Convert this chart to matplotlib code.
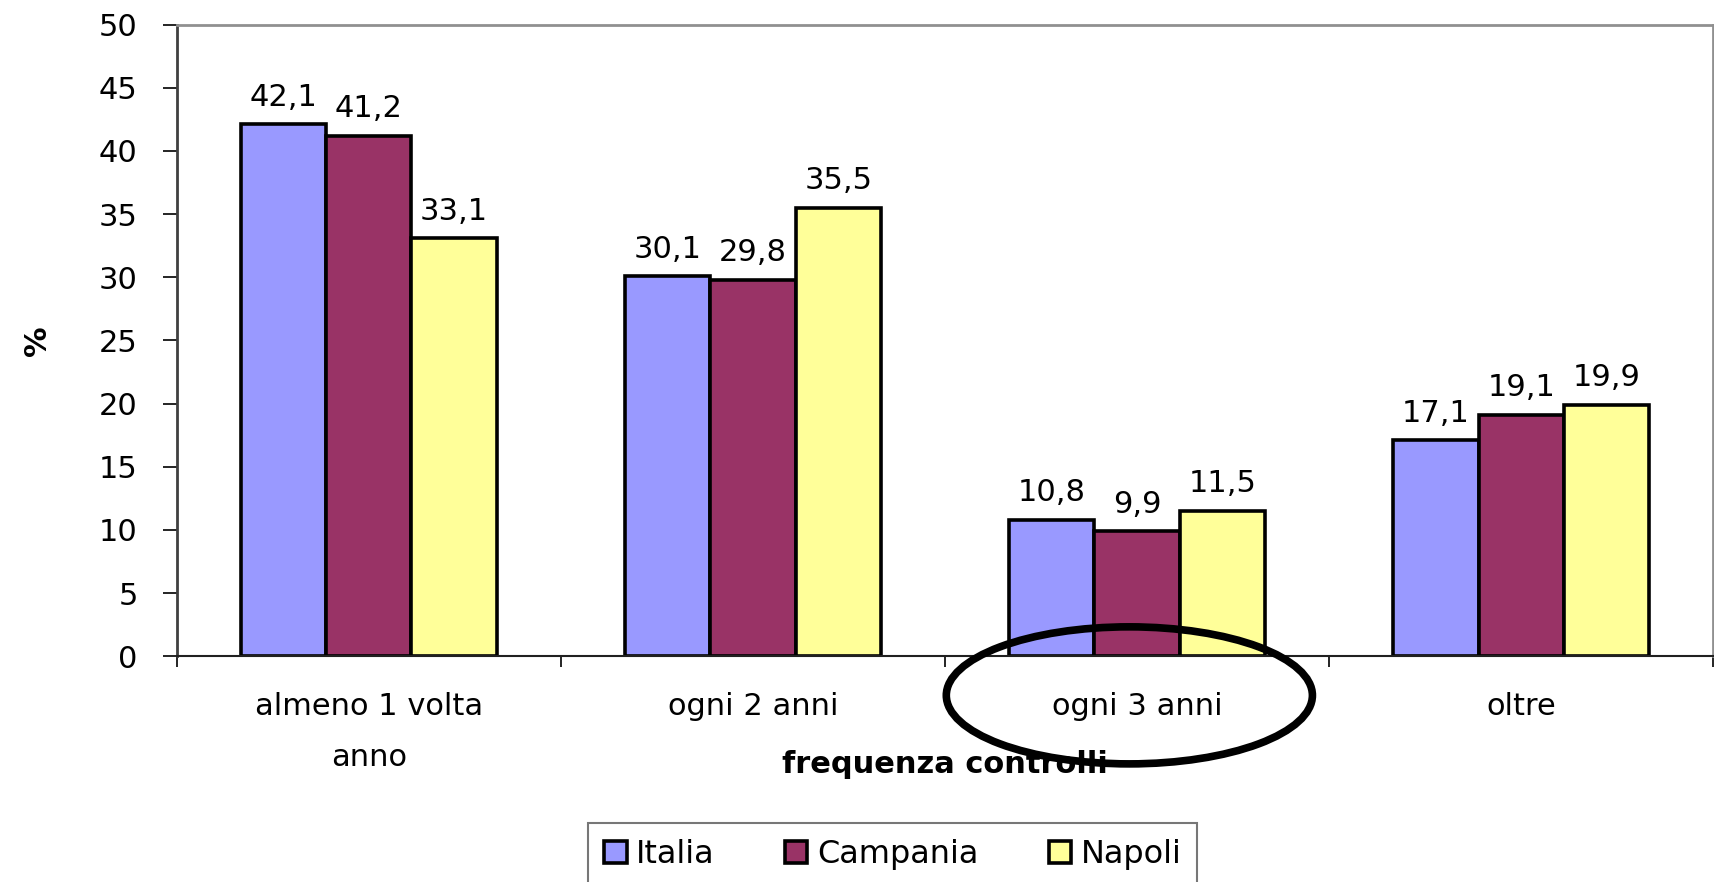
import matplotlib
matplotlib.use("Agg")
import matplotlib.pyplot as plt
import matplotlib.transforms as mtransforms
from matplotlib.patches import Ellipse
import numpy as np

categories = ["almeno 1 volta\nanno", "ogni 2 anni", "ogni 3 anni", "oltre"]
series = ["Italia", "Campania", "Napoli"]
italia = [42.1, 30.1, 10.8, 17.1]
campania = [41.2, 29.8, 9.9, 19.1]
napoli = [33.1, 35.5, 11.5, 19.9]
colors = ["#9999FF", "#993366", "#FFFF99"]

plt.rcParams["font.family"] = ["DejaVu Sans"]

fig = plt.figure(figsize=(17.15, 8.82), dpi=100)
ax = fig.add_axes([0.103, 0.256, 0.896, 0.716])

x = np.arange(len(categories))
width = 0.222
for i, (name, vals, col) in enumerate(zip(series, [italia, campania, napoli], colors)):
    pos = x + (i - 1) * width
    bars = ax.bar(pos, vals, width, color=col, edgecolor="black", linewidth=2.6,
                  label=name, zorder=2)
    for b, v in zip(bars, vals):
        ax.annotate(("%.1f" % v).replace(".", ","),
                    (b.get_x() + b.get_width() / 2, v),
                    xytext=(0, 9), textcoords="offset points",
                    ha="center", va="bottom", fontsize=22)

ax.set_xlim(-0.5, len(categories) - 0.5)
ax.set_ylim(0, 50)
ax.set_yticks(np.arange(0, 51, 5))
ax.tick_params(axis="y", labelsize=22, length=10, width=1.2, pad=18, direction="out")

ax.set_xticks(x)
ax.set_xticklabels(categories, fontsize=22)
for t in ax.get_xticklabels():
    t.set_linespacing(1.95)
ax.set_xticks(np.arange(-0.5, len(categories), 1), minor=True)
ax.tick_params(axis="x", which="major", length=0, pad=26)
ax.tick_params(axis="x", which="minor", length=8, width=1.2, direction="out")

for s in ["top", "right"]:
    ax.spines[s].set_color("#909090")
    ax.spines[s].set_linewidth(2)
ax.spines["left"].set_color("#404040")
ax.spines["left"].set_linewidth(2)
ax.spines["bottom"].set_color("#202020")
ax.spines["bottom"].set_linewidth(1.5)

ax.set_xlabel("frequenza controlli", fontsize=22, fontweight="bold")
ax.xaxis.set_label_coords(0.5, -0.148)
ax.set_ylabel("%", fontsize=22, fontweight="bold", labelpad=34)

# hand-drawn ellipse around the third category label
trans = mtransforms.blended_transform_factory(ax.transData, ax.transAxes)
ell = Ellipse((1.98, -0.062), 0.953, 0.217, transform=trans, fill=False,
              edgecolor="black", linewidth=5.5, clip_on=False, zorder=5)
ax.add_patch(ell)

leg = fig.legend(loc="upper left", bbox_to_anchor=(0.343, 0.067), ncol=3,
                 fontsize=23, frameon=True, fancybox=False, borderaxespad=0,
                 handlelength=0.7, handleheight=0.7, handletextpad=0.3,
                 columnspacing=2.2, borderpad=0.5)
leg.get_frame().set_edgecolor("#555555")
leg.get_frame().set_linewidth(1.5)

fig.savefig("out.png", dpi=100)
